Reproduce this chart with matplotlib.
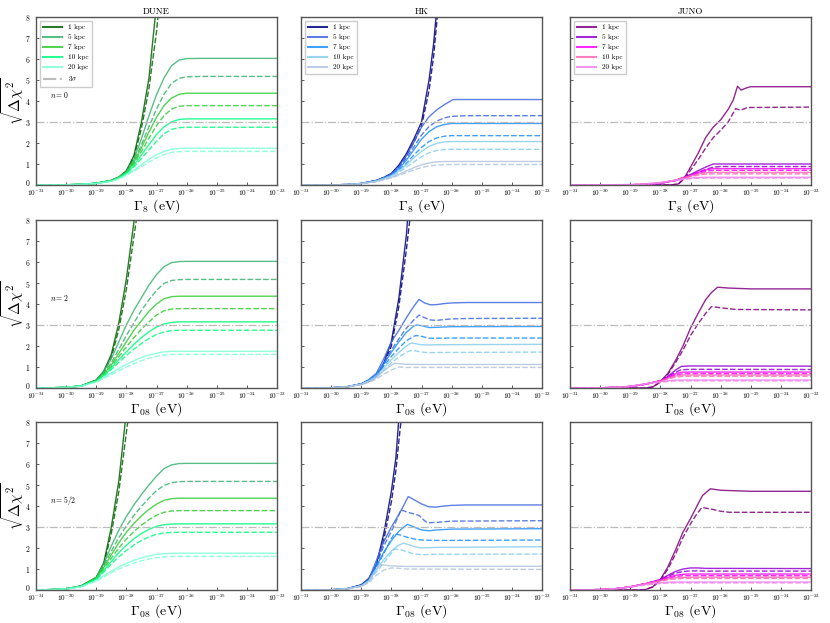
import numpy as np
import matplotlib
matplotlib.use("Agg")
import matplotlib.pyplot as plt
import matplotlib.transforms as mtransforms

plt.rcParams['font.family'] = 'serif'
plt.rcParams['font.serif'] = ['cmr10', 'DejaVu Serif']
plt.rcParams['mathtext.fontset'] = 'cm'
plt.rcParams['axes.formatter.use_mathtext'] = True
plt.rcParams['axes.unicode_minus'] = False

# ---------------- data (x = log10 Gamma / eV, y = sqrt(Delta chi^2)) ----------------
DISTANCES = ['1 kpc', '5 kpc', '7 kpc', '10 kpc', '20 kpc']
EXPERIMENTS = ['DUNE', 'HK', 'JUNO']
N_LABELS = ['$n=0$', '$n=2$', '$n=5/2$']
X_LABELS = [r'$\Gamma_8$ (eV)', r'$\Gamma_{08}$ (eV)', r'$\Gamma_{08}$ (eV)']
X_TICK_EXP = [-31, -30, -29, -28, -27, -26, -25, -24, -23]
Y_TICKS = [0, 1, 2, 3, 4, 5, 6, 7, 8]
SIGMA3 = 3.0

# ===== DUNE, n = 0 =====
dune0_1s_x = [-31, -30, -29.5, -29, -28.5, -28.25, -28, -27.75, -27.5, -27.25, -27]
dune0_1s_y = [0, 0.01, 0.03, 0.08, 0.22, 0.38, 0.68, 1.4, 3.0, 5.1, 8.6]
dune0_1d_x = [-31, -30, -29.5, -29, -28.5, -28.25, -28, -27.75, -27.5, -27.25, -27, -26.9]
dune0_1d_y = [0, 0.01, 0.03, 0.08, 0.21, 0.37, 0.65, 1.3, 2.7, 4.6, 7.3, 8.7]
dune0_x = [-31, -30, -29.5, -29, -28.5, -28.25, -28, -27.75, -27.5, -27.25, -27, -26.75, -26.5, -26.25, -26, -25.5, -23]
dune0_5s_y = [0, 0.01, 0.03, 0.08, 0.21, 0.37, 0.64, 1.22, 2.2, 3.3, 4.3, 5.1, 5.68, 5.95, 6.02, 6.03, 6.03]
dune0_5d_y = [0, 0.01, 0.03, 0.08, 0.21, 0.36, 0.62, 1.12, 1.92, 2.78, 3.62, 4.33, 4.84, 5.08, 5.15, 5.17, 5.17]
dune0_7s_y = [0, 0.01, 0.03, 0.08, 0.21, 0.36, 0.6, 1.07, 1.77, 2.52, 3.22, 3.78, 4.14, 4.32, 4.37, 4.37, 4.37]
dune0_7d_y = [0, 0.01, 0.03, 0.08, 0.2, 0.35, 0.58, 1.0, 1.6, 2.23, 2.83, 3.31, 3.61, 3.75, 3.78, 3.78, 3.78]
dune0_10s_y = [0, 0.01, 0.03, 0.08, 0.2, 0.34, 0.56, 0.93, 1.43, 1.93, 2.4, 2.77, 3.01, 3.12, 3.15, 3.15, 3.15]
dune0_10d_y = [0, 0.01, 0.03, 0.08, 0.19, 0.33, 0.54, 0.86, 1.26, 1.68, 2.08, 2.44, 2.65, 2.73, 2.75, 2.75, 2.75]
dune0_20s_y = [0, 0.01, 0.03, 0.07, 0.18, 0.31, 0.49, 0.71, 0.97, 1.22, 1.44, 1.6, 1.7, 1.74, 1.75, 1.75, 1.75]
dune0_20d_y = [0, 0.01, 0.03, 0.07, 0.17, 0.29, 0.46, 0.65, 0.87, 1.09, 1.29, 1.45, 1.55, 1.59, 1.6, 1.6, 1.6]

# ===== DUNE, n = 2 =====
dune2_1s_x = [-31, -30.5, -30, -29.5, -29, -28.75, -28.5, -28.25, -28, -27.75, -27.7]
dune2_1s_y = [0, 0.01, 0.03, 0.1, 0.38, 0.8, 1.6, 3.1, 5.2, 7.9, 8.6]
dune2_1d_x = [-31, -30.5, -30, -29.5, -29, -28.75, -28.5, -28.25, -28, -27.75, -27.6]
dune2_1d_y = [0, 0.01, 0.03, 0.1, 0.36, 0.76, 1.45, 2.8, 4.7, 7.2, 8.7]
dune2_x = [-31, -30.5, -30, -29.5, -29, -28.75, -28.5, -28.25, -28, -27.75, -27.5, -27.25, -27, -26.75, -26.5, -26.25, -26, -23]
dune2_5s_y = [0, 0.01, 0.03, 0.1, 0.38, 0.8, 1.4, 2.2, 3.0, 3.7, 4.3, 4.9, 5.4, 5.78, 5.97, 6.02, 6.03, 6.03]
dune2_5d_y = [0, 0.01, 0.03, 0.1, 0.36, 0.72, 1.2, 1.85, 2.5, 3.1, 3.7, 4.2, 4.65, 4.98, 5.12, 5.16, 5.17, 5.17]
dune2_7s_y = [0, 0.01, 0.03, 0.1, 0.35, 0.68, 1.1, 1.65, 2.2, 2.75, 3.2, 3.65, 4.0, 4.25, 4.35, 4.37, 4.37, 4.37]
dune2_7d_y = [0, 0.01, 0.03, 0.1, 0.34, 0.64, 1.02, 1.5, 1.95, 2.4, 2.8, 3.15, 3.47, 3.68, 3.76, 3.78, 3.78, 3.78]
dune2_10s_y = [0, 0.01, 0.03, 0.1, 0.33, 0.6, 0.95, 1.35, 1.72, 2.08, 2.4, 2.68, 2.9, 3.05, 3.12, 3.15, 3.15, 3.15]
dune2_10d_y = [0, 0.01, 0.03, 0.1, 0.32, 0.56, 0.88, 1.22, 1.55, 1.85, 2.12, 2.36, 2.55, 2.67, 2.73, 2.75, 2.75, 2.75]
dune2_20s_y = [0, 0.01, 0.03, 0.09, 0.3, 0.5, 0.72, 0.93, 1.12, 1.3, 1.45, 1.57, 1.66, 1.72, 1.75, 1.75, 1.75, 1.75]
dune2_20d_y = [0, 0.01, 0.03, 0.09, 0.28, 0.45, 0.64, 0.82, 1.0, 1.16, 1.3, 1.42, 1.51, 1.57, 1.6, 1.6, 1.6, 1.6]

# ===== DUNE, n = 5/2 =====
dune52_1s_x = [-31, -30.5, -30, -29.5, -29, -28.75, -28.5, -28.25, -28]
dune52_1s_y = [0, 0.02, 0.06, 0.2, 0.6, 1.3, 3.0, 5.2, 8.5]
dune52_1d_x = [-31, -30.5, -30, -29.5, -29, -28.75, -28.5, -28.25, -28, -27.9]
dune52_1d_y = [0, 0.02, 0.06, 0.19, 0.58, 1.2, 2.7, 4.7, 7.5, 8.6]
dune52_x = [-31, -30.5, -30, -29.5, -29, -28.75, -28.5, -28.25, -28, -27.75, -27.5, -27.25, -27, -26.75, -26.5, -26.25, -26, -23]
dune52_5s_y = [0, 0.02, 0.05, 0.18, 0.6, 1.25, 2.1, 2.85, 3.5, 4.05, 4.55, 5.0, 5.42, 5.78, 5.96, 6.02, 6.03, 6.03]
dune52_5d_y = [0, 0.02, 0.05, 0.18, 0.58, 1.15, 1.85, 2.5, 3.05, 3.55, 3.98, 4.38, 4.73, 4.98, 5.11, 5.16, 5.17, 5.17]
dune52_7s_y = [0, 0.02, 0.05, 0.18, 0.56, 1.08, 1.68, 2.25, 2.75, 3.17, 3.53, 3.84, 4.09, 4.27, 4.35, 4.37, 4.37, 4.37]
dune52_7d_y = [0, 0.02, 0.05, 0.17, 0.54, 1.0, 1.52, 2.0, 2.42, 2.78, 3.09, 3.35, 3.56, 3.7, 3.76, 3.78, 3.78, 3.78]
dune52_10s_y = [0, 0.02, 0.05, 0.17, 0.52, 0.92, 1.36, 1.78, 2.13, 2.44, 2.69, 2.89, 3.03, 3.11, 3.14, 3.15, 3.15, 3.15]
dune52_10d_y = [0, 0.02, 0.05, 0.17, 0.5, 0.86, 1.24, 1.58, 1.88, 2.14, 2.36, 2.53, 2.65, 2.72, 2.74, 2.75, 2.75, 2.75]
dune52_20s_y = [0, 0.02, 0.05, 0.16, 0.45, 0.68, 0.9, 1.1, 1.27, 1.41, 1.53, 1.62, 1.69, 1.73, 1.75, 1.75, 1.75, 1.75]
dune52_20d_y = [0, 0.02, 0.05, 0.15, 0.42, 0.62, 0.82, 1.0, 1.15, 1.28, 1.39, 1.48, 1.54, 1.58, 1.6, 1.6, 1.6, 1.6]

# ===== HK, n = 0 =====
hk0_1s_x = [-31, -30, -29.5, -29, -28.5, -28.25, -28, -27.75, -27.5, -27.25, -27, -26.75, -26.6, -26.5]
hk0_1s_y = [0, 0.005, 0.02, 0.07, 0.22, 0.36, 0.55, 0.95, 1.5, 2.2, 3.0, 5.0, 6.7, 8.3]
hk0_1d_x = [-31, -30, -29.5, -29, -28.5, -28.25, -28, -27.75, -27.5, -27.25, -27, -26.75, -26.6, -26.45]
hk0_1d_y = [0, 0.005, 0.02, 0.07, 0.21, 0.35, 0.52, 0.9, 1.4, 2.05, 2.8, 4.5, 6.1, 8.4]
hk0_5s_x = [-31, -30, -29.5, -29, -28.5, -28.25, -28, -27.75, -27.5, -27.25, -27, -26.75, -26.5, -26.25, -25.95, -23]
hk0_5s_y = [0, 0.005, 0.02, 0.07, 0.21, 0.35, 0.52, 0.88, 1.4, 2.05, 2.75, 3.25, 3.57, 3.82, 4.07, 4.07]
hk0_x = [-31, -30, -29.5, -29, -28.5, -28.25, -28, -27.75, -27.5, -27.25, -27, -26.75, -26.5, -26.25, -26, -25.5, -23]
hk0_5d_y = [0, 0.005, 0.02, 0.07, 0.2, 0.34, 0.5, 0.83, 1.28, 1.82, 2.38, 2.78, 3.04, 3.19, 3.27, 3.3, 3.3]
hk0_7s_y = [0, 0.005, 0.02, 0.07, 0.2, 0.33, 0.48, 0.78, 1.18, 1.68, 2.18, 2.54, 2.77, 2.88, 2.93, 2.93, 2.93]
hk0_7d_y = [0, 0.005, 0.02, 0.07, 0.19, 0.31, 0.45, 0.71, 1.04, 1.43, 1.79, 2.07, 2.24, 2.32, 2.35, 2.35, 2.35]
hk0_10s_y = [0, 0.005, 0.02, 0.07, 0.19, 0.31, 0.44, 0.67, 0.96, 1.3, 1.6, 1.84, 1.98, 2.05, 2.07, 2.07, 2.07]
hk0_10d_y = [0, 0.005, 0.02, 0.06, 0.18, 0.29, 0.41, 0.61, 0.85, 1.1, 1.35, 1.53, 1.64, 1.69, 1.7, 1.7, 1.7]
hk0_20s_y = [0, 0.005, 0.02, 0.06, 0.17, 0.27, 0.37, 0.51, 0.67, 0.83, 0.96, 1.05, 1.1, 1.12, 1.12, 1.12, 1.12]
hk0_20d_y = [0, 0.005, 0.02, 0.06, 0.16, 0.25, 0.34, 0.46, 0.59, 0.72, 0.83, 0.91, 0.95, 0.97, 0.98, 0.98, 0.98]

# ===== HK, n = 2 =====
hk2_1s_x = [-31, -30, -29.5, -29, -28.75, -28.5, -28.25, -28, -27.75, -27.5, -27.45]
hk2_1s_y = [0, 0.01, 0.05, 0.2, 0.32, 0.55, 1.2, 2.2, 4.3, 7.3, 8.3]
hk2_1d_x = [-31, -30, -29.5, -29, -28.75, -28.5, -28.25, -28, -27.75, -27.5, -27.35]
hk2_1d_y = [0, 0.01, 0.05, 0.19, 0.3, 0.5, 1.1, 2.0, 3.9, 6.6, 8.5]
hk2_5_x = [-31, -30, -29.5, -29, -28.75, -28.5, -28.25, -28, -27.75, -27.5, -27.25, -27.08, -26.9, -26.7, -26.5, -26.25, -26, -25.5, -23]
hk2_5s_y = [0, 0.01, 0.05, 0.2, 0.4, 0.7, 1.4, 2.2, 2.75, 3.35, 3.9, 4.22, 4.05, 3.96, 3.97, 4.02, 4.05, 4.07, 4.07]
hk2_5d_y = [0, 0.01, 0.05, 0.19, 0.38, 0.65, 1.2, 1.8, 2.35, 2.85, 3.25, 3.47, 3.35, 3.24, 3.22, 3.26, 3.29, 3.31, 3.32]
hk2_7_x = [-31, -30, -29.5, -29, -28.75, -28.5, -28.25, -28, -27.75, -27.5, -27.25, -27.15, -27, -26.75, -26.5, -26, -23]
hk2_7s_y = [0, 0.01, 0.05, 0.19, 0.37, 0.62, 1.15, 1.7, 2.2, 2.65, 2.96, 3.0, 2.97, 2.88, 2.89, 2.92, 2.93]
hk2_7d_y = [0, 0.01, 0.05, 0.18, 0.35, 0.58, 1.05, 1.5, 1.9, 2.25, 2.47, 2.5, 2.46, 2.37, 2.37, 2.38, 2.38]
hk2_10_x = [-31, -30, -29.5, -29, -28.75, -28.5, -28.25, -28, -27.75, -27.5, -27.35, -27.25, -27, -26.75, -26.5, -23]
hk2_10s_y = [0, 0.01, 0.05, 0.18, 0.34, 0.56, 0.95, 1.35, 1.7, 2.0, 2.14, 2.12, 2.06, 2.05, 2.06, 2.08]
hk2_10d_y = [0, 0.01, 0.05, 0.18, 0.32, 0.52, 0.85, 1.2, 1.48, 1.7, 1.79, 1.78, 1.71, 1.68, 1.69, 1.71]
hk2_20s_x = [-31, -30, -29.5, -29, -28.75, -28.5, -28.25, -28, -27.9, -27.75, -27.5, -27, -23]
hk2_20s_y = [0, 0.01, 0.05, 0.17, 0.3, 0.5, 0.82, 1.08, 1.18, 1.16, 1.13, 1.12, 1.12]
hk2_20d_x = [-31, -30, -29.5, -29, -28.75, -28.5, -28.25, -28, -27.75, -27.5, -27, -23]
hk2_20d_y = [0, 0.01, 0.05, 0.16, 0.27, 0.43, 0.66, 0.86, 1.0, 0.98, 0.98, 0.98]

# ===== HK, n = 5/2 =====
hk52_1s_x = [-31, -30, -29.5, -29, -28.75, -28.5, -28.25, -28, -27.85, -27.75]
hk52_1s_y = [0, 0.01, 0.05, 0.25, 0.55, 1.2, 2.7, 4.7, 6.3, 8.2]
hk52_1d_x = [-31, -30, -29.5, -29, -28.75, -28.5, -28.25, -28, -27.85, -27.7, -27.62]
hk52_1d_y = [0, 0.01, 0.05, 0.22, 0.5, 1.1, 2.4, 4.2, 5.7, 7.8, 8.6]
hk52_5s_x = [-31, -30, -29.5, -29, -28.75, -28.5, -28.25, -28, -27.75, -27.6, -27.44, -27.25, -27, -26.75, -26.5, -26.25, -26, -25.5, -23]
hk52_5s_y = [0, 0.01, 0.05, 0.22, 0.5, 1.4, 2.3, 3.0, 3.6, 4.0, 4.45, 4.3, 4.1, 3.96, 3.95, 4.0, 4.03, 4.05, 4.05]
hk52_5d_x = [-31, -30, -29.5, -29, -28.75, -28.5, -28.25, -28, -27.85, -27.68, -27.5, -27.25, -27.08, -26.9, -26.8, -26.5, -26, -23]
hk52_5d_y = [0, 0.01, 0.05, 0.21, 0.48, 1.25, 2.1, 2.8, 3.25, 3.82, 3.72, 3.62, 3.55, 3.3, 3.2, 3.22, 3.28, 3.3]
hk52_7s_x = [-31, -30, -29.5, -29, -28.75, -28.5, -28.25, -28, -27.75, -27.47, -27.25, -27, -26.75, -26.5, -26, -23]
hk52_7s_y = [0, 0.01, 0.05, 0.21, 0.47, 1.15, 1.8, 2.35, 2.8, 3.13, 3.0, 2.86, 2.82, 2.86, 2.9, 2.92]
hk52_7d_x = [-31, -30, -29.5, -29, -28.75, -28.5, -28.25, -28, -27.9, -27.7, -27.5, -27.25, -27, -26.5, -23]
hk52_7d_y = [0, 0.01, 0.05, 0.2, 0.45, 1.05, 1.75, 2.45, 2.67, 2.62, 2.52, 2.43, 2.38, 2.36, 2.38]
hk52_10s_x = [-31, -30, -29.5, -29, -28.75, -28.5, -28.25, -28, -27.8, -27.6, -27.4, -27.2, -27, -26.5, -23]
hk52_10s_y = [0, 0.01, 0.05, 0.2, 0.44, 0.95, 1.45, 1.85, 2.1, 2.23, 2.15, 2.05, 2.0, 2.03, 2.06]
hk52_10d_x = [-31, -30, -29.5, -29, -28.75, -28.5, -28.25, -28, -27.9, -27.7, -27.5, -27.25, -27, -26.5, -23]
hk52_10d_y = [0, 0.01, 0.05, 0.19, 0.42, 0.85, 1.3, 1.75, 1.95, 1.92, 1.83, 1.72, 1.68, 1.7, 1.71]
hk52_20s_x = [-31, -30, -29.5, -29, -28.75, -28.55, -28.4, -28.2, -28, -27.5, -23]
hk52_20s_y = [0, 0.01, 0.05, 0.18, 0.4, 0.9, 1.22, 1.18, 1.15, 1.12, 1.13]
hk52_20d_x = [-31, -30, -29.5, -29, -28.75, -28.5, -28.25, -28, -27.8, -27.5, -23]
hk52_20d_y = [0, 0.01, 0.05, 0.17, 0.35, 0.7, 0.95, 1.05, 1.04, 1.0, 0.98]

# ===== JUNO, n = 0 =====
juno0_1s_x = [-31, -28, -27.6, -27.4, -27.2, -27, -26.75, -26.5, -26.25, -26, -25.75, -25.58, -25.44, -25.32, -25.15, -25, -23]
juno0_1s_y = [0, 0, 0.01, 0.05, 0.35, 0.85, 1.5, 2.25, 2.75, 3.1, 3.6, 4.05, 4.7, 4.52, 4.62, 4.68, 4.68]
juno0_1d_x = [-31, -28, -27.6, -27.4, -27.2, -27, -26.75, -26.5, -26.25, -26, -25.75, -25.5, -25.35, -25.1, -23]
juno0_1d_y = [0, 0, 0.01, 0.05, 0.3, 0.7, 1.2, 1.75, 2.25, 2.6, 3.0, 3.64, 3.56, 3.69, 3.71]
juno0_x = [-31, -29, -28.5, -28, -27.5, -27.25, -27, -26.75, -26.5, -26.25, -26, -23]
juno0_5s_y = [0, 0.01, 0.03, 0.08, 0.22, 0.35, 0.5, 0.68, 0.85, 1.0, 1.0, 1.0]
juno0_5d_y = [0, 0.01, 0.03, 0.08, 0.21, 0.33, 0.46, 0.6, 0.74, 0.85, 0.88, 0.88]
juno0_7s_y = [0, 0.01, 0.03, 0.09, 0.22, 0.34, 0.46, 0.6, 0.72, 0.78, 0.78, 0.78]
juno0_7d_y = [0, 0.01, 0.03, 0.09, 0.21, 0.32, 0.43, 0.55, 0.65, 0.7, 0.7, 0.7]
juno0_10s_y = [0, 0.01, 0.04, 0.1, 0.23, 0.33, 0.43, 0.52, 0.58, 0.6, 0.6, 0.6]
juno0_10d_y = [0, 0.01, 0.04, 0.1, 0.22, 0.31, 0.4, 0.47, 0.52, 0.53, 0.53, 0.53]
juno0_20s_y = [0, 0.02, 0.05, 0.12, 0.23, 0.29, 0.33, 0.36, 0.37, 0.37, 0.37, 0.37]
juno0_20d_y = [0, 0.02, 0.05, 0.11, 0.21, 0.26, 0.3, 0.32, 0.33, 0.33, 0.33, 0.33]

# ===== JUNO, n = 2 =====
juno2_1s_x = [-31, -28.5, -28.25, -28, -27.75, -27.5, -27.25, -27, -26.75, -26.5, -26.3, -26.1, -25.75, -25, -23]
juno2_1s_y = [0, 0, 0.05, 0.3, 0.7, 1.3, 2.0, 2.85, 3.55, 4.2, 4.55, 4.8, 4.76, 4.72, 4.72]
juno2_1d_x = [-31, -28.5, -28.25, -28, -27.75, -27.5, -27.25, -27, -26.75, -26.5, -26.3, -26, -25.5, -23]
juno2_1d_y = [0, 0, 0.05, 0.28, 0.65, 1.2, 1.8, 2.5, 3.05, 3.55, 3.88, 3.82, 3.74, 3.72]
juno2_x = [-31, -30, -29.5, -29, -28.5, -28, -27.75, -27.5, -27.3, -27, -23]
juno2_5s_y = [0, 0.01, 0.03, 0.07, 0.18, 0.35, 0.55, 0.85, 1.03, 1.05, 1.04]
juno2_5d_y = [0, 0.01, 0.03, 0.07, 0.18, 0.34, 0.52, 0.75, 0.87, 0.89, 0.88]
juno2_7s_y = [0, 0.01, 0.03, 0.07, 0.18, 0.34, 0.5, 0.68, 0.75, 0.76, 0.76]
juno2_7d_y = [0, 0.01, 0.03, 0.07, 0.18, 0.33, 0.47, 0.62, 0.67, 0.68, 0.68]
juno2_10s_y = [0, 0.01, 0.03, 0.08, 0.19, 0.33, 0.46, 0.57, 0.62, 0.62, 0.62]
juno2_10d_y = [0, 0.01, 0.03, 0.08, 0.19, 0.32, 0.43, 0.52, 0.55, 0.56, 0.56]
juno2_20s_y = [0, 0.01, 0.03, 0.08, 0.2, 0.3, 0.35, 0.38, 0.38, 0.38, 0.38]
juno2_20d_y = [0, 0.01, 0.03, 0.07, 0.18, 0.27, 0.31, 0.34, 0.34, 0.34, 0.34]

# ===== JUNO, n = 5/2 =====
juno52_1s_x = [-31, -28.75, -28.5, -28.25, -28, -27.75, -27.5, -27.25, -27, -26.75, -26.6, -26.34, -26, -25, -23]
juno52_1s_y = [0, 0, 0.02, 0.15, 0.5, 1.1, 1.9, 2.75, 3.4, 4.1, 4.5, 4.82, 4.75, 4.7, 4.7]
juno52_1d_x = [-31, -28.75, -28.5, -28.25, -28, -27.75, -27.5, -27.25, -27, -26.8, -26.62, -26.3, -26, -25.7, -23]
juno52_1d_y = [0, 0, 0.02, 0.14, 0.47, 1.0, 1.7, 2.5, 3.15, 3.6, 3.93, 3.85, 3.75, 3.7, 3.7]
juno52_x = [-31, -30, -29.5, -29, -28.5, -28, -27.75, -27.5, -27.25, -27, -26.75, -26.5, -23]
juno52_5s_y = [0, 0.02, 0.06, 0.15, 0.3, 0.5, 0.7, 0.88, 1.0, 1.05, 1.05, 1.03, 1.02]
juno52_5d_y = [0, 0.02, 0.06, 0.15, 0.3, 0.48, 0.65, 0.8, 0.88, 0.91, 0.91, 0.9, 0.9]
juno52_7s_y = [0, 0.02, 0.06, 0.15, 0.3, 0.47, 0.6, 0.7, 0.75, 0.76, 0.76, 0.76, 0.76]
juno52_7d_y = [0, 0.02, 0.06, 0.15, 0.29, 0.45, 0.56, 0.64, 0.68, 0.68, 0.68, 0.68, 0.68]
juno52_10s_y = [0, 0.02, 0.06, 0.15, 0.29, 0.44, 0.53, 0.58, 0.6, 0.61, 0.61, 0.61, 0.61]
juno52_10d_y = [0, 0.02, 0.06, 0.14, 0.28, 0.42, 0.49, 0.53, 0.55, 0.55, 0.55, 0.55, 0.55]
juno52_20s_y = [0, 0.02, 0.06, 0.15, 0.27, 0.35, 0.37, 0.38, 0.38, 0.38, 0.38, 0.38, 0.38]
juno52_20d_y = [0, 0.02, 0.05, 0.14, 0.24, 0.31, 0.33, 0.34, 0.34, 0.34, 0.34, 0.34, 0.34]

# ---------------- assemble (solid, dashed) per distance ----------------
PANELS = {
    ('DUNE', 0): [((dune0_1s_x, dune0_1s_y), (dune0_1d_x, dune0_1d_y)),
                  ((dune0_x, dune0_5s_y), (dune0_x, dune0_5d_y)),
                  ((dune0_x, dune0_7s_y), (dune0_x, dune0_7d_y)),
                  ((dune0_x, dune0_10s_y), (dune0_x, dune0_10d_y)),
                  ((dune0_x, dune0_20s_y), (dune0_x, dune0_20d_y))],
    ('DUNE', 1): [((dune2_1s_x, dune2_1s_y), (dune2_1d_x, dune2_1d_y)),
                  ((dune2_x, dune2_5s_y), (dune2_x, dune2_5d_y)),
                  ((dune2_x, dune2_7s_y), (dune2_x, dune2_7d_y)),
                  ((dune2_x, dune2_10s_y), (dune2_x, dune2_10d_y)),
                  ((dune2_x, dune2_20s_y), (dune2_x, dune2_20d_y))],
    ('DUNE', 2): [((dune52_1s_x, dune52_1s_y), (dune52_1d_x, dune52_1d_y)),
                  ((dune52_x, dune52_5s_y), (dune52_x, dune52_5d_y)),
                  ((dune52_x, dune52_7s_y), (dune52_x, dune52_7d_y)),
                  ((dune52_x, dune52_10s_y), (dune52_x, dune52_10d_y)),
                  ((dune52_x, dune52_20s_y), (dune52_x, dune52_20d_y))],
    ('HK', 0): [((hk0_1s_x, hk0_1s_y), (hk0_1d_x, hk0_1d_y)),
                ((hk0_5s_x, hk0_5s_y), (hk0_x, hk0_5d_y)),
                ((hk0_x, hk0_7s_y), (hk0_x, hk0_7d_y)),
                ((hk0_x, hk0_10s_y), (hk0_x, hk0_10d_y)),
                ((hk0_x, hk0_20s_y), (hk0_x, hk0_20d_y))],
    ('HK', 1): [((hk2_1s_x, hk2_1s_y), (hk2_1d_x, hk2_1d_y)),
                ((hk2_5_x, hk2_5s_y), (hk2_5_x, hk2_5d_y)),
                ((hk2_7_x, hk2_7s_y), (hk2_7_x, hk2_7d_y)),
                ((hk2_10_x, hk2_10s_y), (hk2_10_x, hk2_10d_y)),
                ((hk2_20s_x, hk2_20s_y), (hk2_20d_x, hk2_20d_y))],
    ('HK', 2): [((hk52_1s_x, hk52_1s_y), (hk52_1d_x, hk52_1d_y)),
                ((hk52_5s_x, hk52_5s_y), (hk52_5d_x, hk52_5d_y)),
                ((hk52_7s_x, hk52_7s_y), (hk52_7d_x, hk52_7d_y)),
                ((hk52_10s_x, hk52_10s_y), (hk52_10d_x, hk52_10d_y)),
                ((hk52_20s_x, hk52_20s_y), (hk52_20d_x, hk52_20d_y))],
    ('JUNO', 0): [((juno0_1s_x, juno0_1s_y), (juno0_1d_x, juno0_1d_y)),
                  ((juno0_x, juno0_5s_y), (juno0_x, juno0_5d_y)),
                  ((juno0_x, juno0_7s_y), (juno0_x, juno0_7d_y)),
                  ((juno0_x, juno0_10s_y), (juno0_x, juno0_10d_y)),
                  ((juno0_x, juno0_20s_y), (juno0_x, juno0_20d_y))],
    ('JUNO', 1): [((juno2_1s_x, juno2_1s_y), (juno2_1d_x, juno2_1d_y)),
                  ((juno2_x, juno2_5s_y), (juno2_x, juno2_5d_y)),
                  ((juno2_x, juno2_7s_y), (juno2_x, juno2_7d_y)),
                  ((juno2_x, juno2_10s_y), (juno2_x, juno2_10d_y)),
                  ((juno2_x, juno2_20s_y), (juno2_x, juno2_20d_y))],
    ('JUNO', 2): [((juno52_1s_x, juno52_1s_y), (juno52_1d_x, juno52_1d_y)),
                  ((juno52_x, juno52_5s_y), (juno52_x, juno52_5d_y)),
                  ((juno52_x, juno52_7s_y), (juno52_x, juno52_7d_y)),
                  ((juno52_x, juno52_10s_y), (juno52_x, juno52_10d_y)),
                  ((juno52_x, juno52_20s_y), (juno52_x, juno52_20d_y))],
}

COLORS = {
    'DUNE': ['darkgreen', 'mediumseagreen', 'limegreen', 'springgreen', 'aquamarine'],
    'HK': ['navy', 'royalblue', 'dodgerblue', 'skyblue', 'lightsteelblue'],
    'JUNO': ['purple', 'darkviolet', 'magenta', 'hotpink', 'violet'],
}

# ---------------- layout ----------------
W, H = 830, 623
fig = plt.figure(figsize=(W / 100, H / 100), dpi=100)
col_left = [36, 301, 570]
col_w = 241
row_top = [17, 220, 422]
row_h = 168

for r in range(3):
    for c, exp in enumerate(EXPERIMENTS):
        ax = fig.add_axes([col_left[c] / W, 1 - (row_top[r] + row_h) / H, col_w / W, row_h / H])
        curves = PANELS[(exp, r)]
        for k, ((xs, ys), (xd, yd)) in enumerate(curves):
            col = COLORS[exp][k]
            ax.plot(10.0 ** np.array(xs), ys, color=col, lw=1.0, alpha=0.85, label=DISTANCES[k])
            ax.plot(10.0 ** np.array(xd), yd, color=col, lw=1.0, alpha=0.85, ls=(0, (4, 1.6)))
        ax.axhline(SIGMA3, color='#bbbbbb', lw=0.9, ls='-.', label=r'$3\sigma$' if exp == 'DUNE' else None)
        ax.set_xscale('log')
        ax.set_xlim(10.0 ** X_TICK_EXP[0], 10.0 ** X_TICK_EXP[-1])
        ax.set_ylim(Y_TICKS[0], Y_TICKS[-1])
        ax.set_xticks([10.0 ** e for e in X_TICK_EXP])
        ax.xaxis.set_minor_locator(matplotlib.ticker.NullLocator())
        ax.set_yticks(Y_TICKS)
        ax.tick_params(axis='both', direction='in', length=2.5, width=0.6, color='#444444')
        ax.tick_params(axis='x', labelsize=5.2, pad=2.0)
        ax.tick_params(axis='y', labelsize=5.5, pad=4.0)
        if c != 0:
            ax.set_yticklabels([])
        else:
            # lift the "0" label slightly so it clears the first x tick label
            lbl0 = ax.get_yticklabels()[0]
            lbl0.set_transform(lbl0.get_transform() +
                               mtransforms.ScaledTranslation(0, 2.5 / 72, fig.dpi_scale_trans))
        for sp in ax.spines.values():
            sp.set_color('#555555')
            sp.set_linewidth(1.0)
        ax.set_xlabel(X_LABELS[r], fontsize=10)
        ax.xaxis.set_label_coords(0.5, -0.072)
        if c == 0:
            ax.set_ylabel(r'$\sqrt{\Delta\chi^2}$', fontsize=11)
            ax.yaxis.set_label_coords(-0.042, 0.5)
            ax.text(0.06, 0.52, N_LABELS[r], transform=ax.transAxes, fontsize=5.5)
        if r == 0:
            ax.set_title(exp, fontsize=6.5, pad=2)
            leg = ax.legend(loc='upper left', fontsize=5.2, frameon=True, handlelength=2.6,
                            borderpad=0.5, labelspacing=0.55, handletextpad=0.8,
                            fancybox=False, edgecolor='#cccccc', framealpha=1.0)
            for ln in leg.get_lines():
                ln.set_linewidth(1.5)

fig.savefig('out.png', dpi=100)
